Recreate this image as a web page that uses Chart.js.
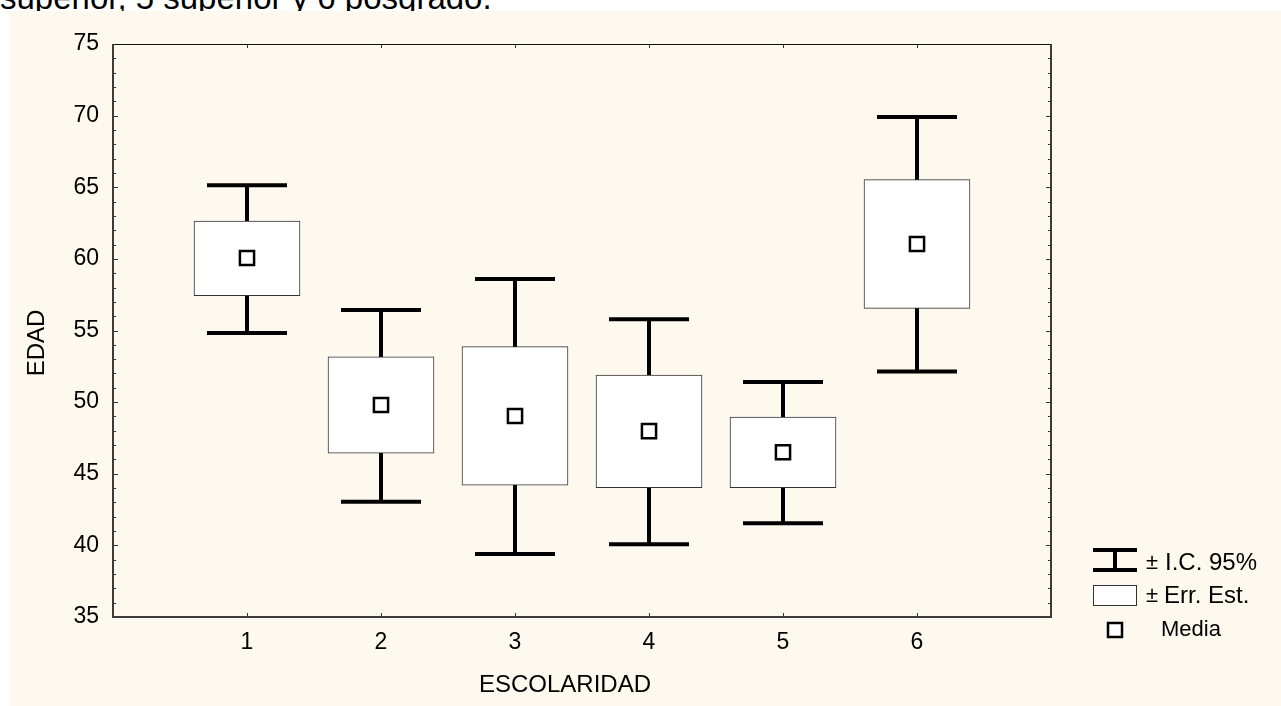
<!DOCTYPE html>
<html>
<head>
<meta charset="utf-8">
<script src="https://cdn.jsdelivr.net/npm/chart.js@4.4.0/dist/chart.umd.min.js"></script>
<style>
  body { margin: 0; background: #fff; width: 1281px; height: 706px; overflow: hidden; }
  #cap { position: absolute; left: 0; top: 0; width: 1281px; height: 11px; overflow: hidden; }
  #cap span { position: absolute; left: 0; top: -19.5px; font: 33px 'Liberation Sans', Arial, sans-serif; line-height: 33px; white-space: nowrap; color: #000; }
  #wrap { position: absolute; left: 9px; top: 11px; width: 1272px; height: 695px; background: #fef9ef; }
</style>
</head>
<body>
<div id="cap"><span>superior, 5 superior y 6 posgrado.</span></div>
<div id="wrap"><canvas id="chart" width="1272" height="695"></canvas></div>
<script>
// ESCOLARIDAD groups (0 and 7 are empty slots at the axis ends)
const categories = ['0', '1', '2', '3', '4', '5', '6', '7'];
const means  = [null, 60.06, 49.80, 49.03, 47.98, 46.50, 61.04, null];
const seLow  = [null, 57.43, 46.43, 44.21, 44.03, 44.03, 56.55, null];
const seHigh = [null, 62.64, 53.17, 53.87, 51.89, 48.96, 65.53, null];
const ciLow  = [null, 54.83, 43.05, 39.40, 40.07, 41.54, 52.13, null];
const ciHigh = [null, 65.14, 56.43, 58.60, 55.78, 51.40, 69.90, null];
const yMin = 35, yMax = 75, yStep = 5;

const FONT = "'Liberation Sans', Arial, sans-serif";

// whiskers, inward ticks, frame, axis titles and legend
const statPlot = {
    id: 'statPlot',
    beforeDatasetsDraw(chart) {
        const ctx = chart.ctx;
        const x = chart.scales.x, y = chart.scales.y;
        ctx.save();
        ctx.strokeStyle = '#000';
        ctx.lineWidth = 4;
        ctx.lineCap = 'butt';
        categories.forEach((c, i) => {
            if (ciLow[i] == null) return;
            const px = x.getPixelForValue(i);
            const lo = y.getPixelForValue(ciLow[i]);
            const hi = y.getPixelForValue(ciHigh[i]);
            ctx.beginPath();
            ctx.moveTo(px, lo); ctx.lineTo(px, hi);
            ctx.moveTo(px - 40, lo); ctx.lineTo(px + 40, lo);
            ctx.moveTo(px - 40, hi); ctx.lineTo(px + 40, hi);
            ctx.stroke();
        });
        ctx.restore();
    },
    afterDraw(chart) {
        const ctx = chart.ctx;
        const a = chart.chartArea;
        const x = chart.scales.x, y = chart.scales.y;
        ctx.save();

        // ticks pointing inward
        ctx.strokeStyle = '#333';
        ctx.lineWidth = 1;
        ctx.beginPath();
        for (let v = yMin; v <= yMax; v++) {
            const py = Math.round(y.getPixelForValue(v)) + 0.5;
            const len = v % yStep === 0 ? 5 : 3;
            ctx.moveTo(a.left, py); ctx.lineTo(a.left + len, py);
            ctx.moveTo(a.right, py); ctx.lineTo(a.right - len, py);
        }
        for (let i = 1; i < categories.length - 1; i++) {
            const px = Math.round(x.getPixelForValue(i)) + 0.5;
            ctx.moveTo(px, a.bottom); ctx.lineTo(px, a.bottom - 4);
            ctx.moveTo(px, a.top); ctx.lineTo(px, a.top + 4);
        }
        ctx.stroke();

        // frame
        ctx.strokeStyle = '#111';
        ctx.lineWidth = 1;
        ctx.beginPath();
        ctx.moveTo(a.left, a.top + 0.5); ctx.lineTo(a.right, a.top + 0.5);
        ctx.stroke();
        ctx.strokeStyle = '#3c3c3c';
        ctx.lineWidth = 2;
        ctx.beginPath();
        ctx.moveTo(a.left, a.top); ctx.lineTo(a.left, a.bottom);
        ctx.lineTo(a.right, a.bottom); ctx.lineTo(a.right, a.top);
        ctx.stroke();

        // axis titles
        ctx.fillStyle = '#000';
        ctx.font = '24px ' + FONT;
        ctx.textAlign = 'center';
        ctx.textBaseline = 'middle';
        ctx.fillText('ESCOLARIDAD', a.left + 452, a.bottom + 68);
        ctx.save();
        ctx.translate(28, a.top + 299);
        ctx.rotate(-Math.PI / 2);
        ctx.fillText('EDAD', 0, 0);
        ctx.restore();

        // legend
        const lx = a.right + 42;
        ctx.strokeStyle = '#000';
        ctx.lineWidth = 4;
        ctx.beginPath();
        ctx.moveTo(lx, a.top + 506); ctx.lineTo(lx + 44, a.top + 506);
        ctx.moveTo(lx, a.top + 526); ctx.lineTo(lx + 44, a.top + 526);
        ctx.moveTo(lx + 22, a.top + 506); ctx.lineTo(lx + 22, a.top + 526);
        ctx.stroke();

        ctx.fillStyle = '#fff';
        ctx.strokeStyle = '#333';
        ctx.lineWidth = 1;
        ctx.fillRect(lx + 0.5, a.top + 541.5, 43, 20);
        ctx.strokeRect(lx + 0.5, a.top + 541.5, 43, 20);

        ctx.strokeStyle = '#000';
        ctx.lineWidth = 2.5;
        ctx.fillRect(lx + 15, a.top + 579, 14, 14);
        ctx.strokeRect(lx + 15, a.top + 579, 14, 14);

        ctx.fillStyle = '#000';
        ctx.textAlign = 'left';
        ctx.font = '22px ' + FONT;
        ctx.fillText('±', lx + 53, a.top + 519);
        ctx.fillText('±', lx + 53, a.top + 552);
        ctx.fillText('Media', lx + 68, a.top + 586);
        ctx.font = '24px ' + FONT;
        ctx.fillText('I.C. 95%', lx + 72, a.top + 519);
        ctx.fillText('Err. Est.', lx + 71, a.top + 552);
        ctx.restore();
    }
};

new Chart(document.getElementById('chart'), {
    data: {
        labels: categories,
        datasets: [
            {
                type: 'line',
                label: 'Media',
                data: means,
                showLine: false,
                pointStyle: 'rect',
                pointRadius: 10,
                pointHoverRadius: 10,
                pointBackgroundColor: '#fff',
                pointBorderColor: '#000',
                pointBorderWidth: 2.5,
                order: 1
            },
            {
                type: 'bar',
                label: '± Err. Est.',
                data: categories.map((c, i) => seLow[i] == null ? null : [seLow[i], seHigh[i]]),
                backgroundColor: '#fff',
                borderColor: '#333',
                borderWidth: 1,
                borderSkipped: false,
                barThickness: 106,
                order: 2
            }
        ]
    },
    options: {
        responsive: false,
        animation: false,
        layout: { padding: { left: 0, top: 33, right: 230, bottom: 0 } },
        plugins: {
            legend: { display: false },
            tooltip: { enabled: false }
        },
        scales: {
            x: {
                type: 'category',
                offset: false,
                grid: { display: false, drawTicks: false },
                border: { display: false },
                ticks: {
                    color: '#000',
                    font: { family: FONT, size: 23 },
                    padding: 12,
                    maxRotation: 0,
                    autoSkip: false,
                    callback: (v, i) => (i === 0 || i === categories.length - 1) ? '' : categories[i]
                },
                afterFit: s => { s.height = 89; }
            },
            y: {
                min: yMin,
                max: yMax,
                grid: { display: false, drawTicks: false },
                border: { display: false },
                ticks: {
                    stepSize: yStep,
                    color: '#000',
                    font: { family: FONT, size: 23 },
                    padding: 14
                },
                afterFit: s => { s.width = 104; }
            }
        }
    },
    plugins: [statPlot]
});
</script>
</body>
</html>
